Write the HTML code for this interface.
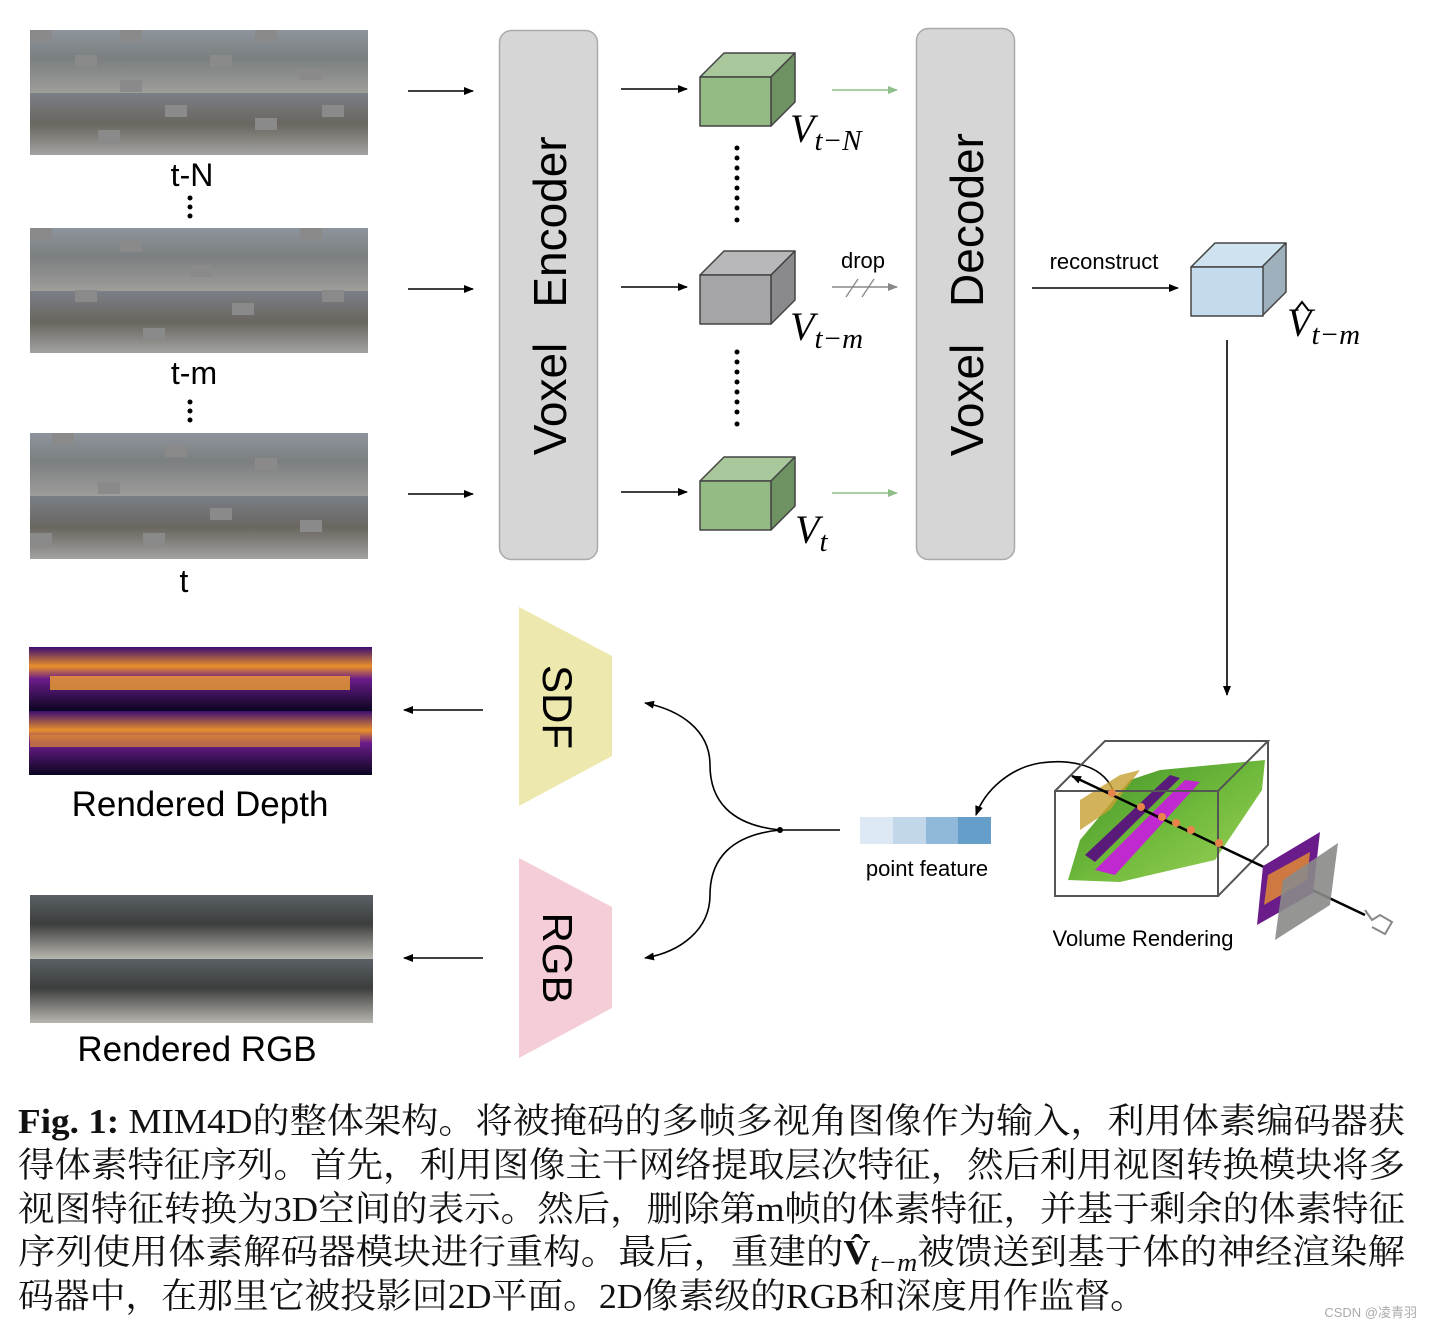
<!DOCTYPE html>
<html><head><meta charset="utf-8">
<style>
html,body{margin:0;padding:0;background:#fff;}
svg{display:block;}
.s{font-family:"Liberation Sans","DejaVu Sans",sans-serif;}
.m{font-family:"Liberation Serif","DejaVu Serif",serif;font-style:italic;}
.c{font-family:"Liberation Serif","Noto Serif CJK SC",serif;font-size:35px;fill:#111;}
</style></head><body>
<svg width="1432" height="1328" viewBox="0 0 1432 1328" xmlns="http://www.w3.org/2000/svg">
<defs>
<marker id="ah" markerWidth="10" markerHeight="8" refX="9" refY="4" orient="auto" markerUnits="userSpaceOnUse"><path d="M0,0 L10,4 L0,8 Z" fill="#000"/></marker>
<marker id="ag" markerWidth="10" markerHeight="8" refX="9" refY="4" orient="auto" markerUnits="userSpaceOnUse"><path d="M0,0 L10,4 L0,8 Z" fill="#8fbf88"/></marker>
<marker id="ay" markerWidth="10" markerHeight="8" refX="9" refY="4" orient="auto" markerUnits="userSpaceOnUse"><path d="M0,0 L10,4 L0,8 Z" fill="#888"/></marker>
<linearGradient id="photoT" x1="0" y1="0" x2="0" y2="1">
<stop offset="0" stop-color="#8d949c"/><stop offset="0.45" stop-color="#7b7f80"/><stop offset="1" stop-color="#9d9d9a"/></linearGradient>
<linearGradient id="photoB" x1="0" y1="0" x2="0" y2="1">
<stop offset="0" stop-color="#7a7f86"/><stop offset="0.5" stop-color="#6a6660"/><stop offset="1" stop-color="#a2a2a0"/></linearGradient>
<linearGradient id="depth" x1="0" y1="0" x2="0" y2="1">
<stop offset="0" stop-color="#3a0d72"/><stop offset="0.3" stop-color="#e8902a"/><stop offset="0.5" stop-color="#6a1c8a"/><stop offset="1" stop-color="#0a0520"/></linearGradient>
<linearGradient id="rgbp" x1="0" y1="0" x2="0" y2="1">
<stop offset="0" stop-color="#5a6066"/><stop offset="0.45" stop-color="#3c3e3c"/><stop offset="1" stop-color="#b8b6b0"/></linearGradient>
<linearGradient id="ground" x1="0" y1="0" x2="1" y2="1">
<stop offset="0" stop-color="#3f8f2a"/><stop offset="0.5" stop-color="#6db83a"/><stop offset="1" stop-color="#9fd35a"/></linearGradient>
</defs>

<g>
<rect x="30" y="30" width="338" height="63" fill="url(#photoT)"/><rect x="30" y="93" width="338" height="62" fill="url(#photoB)"/>
<rect x="30" y="228" width="338" height="63" fill="url(#photoT)"/><rect x="30" y="291" width="338" height="62" fill="url(#photoB)"/>
<rect x="30" y="433" width="338" height="63" fill="url(#photoT)"/><rect x="30" y="496" width="338" height="63" fill="url(#photoB)"/>
<g fill="#8a8a8a">
<rect x="30" y="30" width="22" height="12"/><rect x="120" y="30" width="22" height="12"/><rect x="75" y="55" width="22" height="12"/><rect x="120" y="80" width="22" height="12"/><rect x="255" y="30" width="22" height="12"/><rect x="210" y="55" width="22" height="12"/><rect x="300" y="68" width="22" height="12"/><rect x="165" y="105" width="22" height="12"/><rect x="255" y="118" width="22" height="12"/><rect x="98" y="130" width="22" height="12"/><rect x="322" y="105" width="22" height="12"/>
<rect x="30" y="228" width="22" height="12"/><rect x="120" y="240" width="22" height="12"/><rect x="190" y="265" width="22" height="12"/><rect x="300" y="228" width="22" height="12"/><rect x="75" y="290" width="22" height="12"/><rect x="232" y="303" width="22" height="12"/><rect x="143" y="328" width="22" height="12"/><rect x="322" y="290" width="22" height="12"/>
<rect x="52" y="433" width="22" height="12"/><rect x="165" y="445" width="22" height="12"/><rect x="255" y="458" width="22" height="12"/><rect x="98" y="482" width="22" height="12"/><rect x="210" y="508" width="22" height="12"/><rect x="300" y="520" width="22" height="12"/><rect x="30" y="533" width="22" height="12"/><rect x="143" y="533" width="22" height="12"/>
</g>
</g>
<g class="s" font-size="32" text-anchor="middle" fill="#000">
<text x="192" y="186">t-N</text>
<text x="194" y="384">t-m</text>
<text x="184" y="592">t</text>
</g>
<g fill="#000"><circle cx="190" cy="198" r="2.5"/><circle cx="190" cy="207" r="2.5"/><circle cx="190" cy="216" r="2.5"/>
<circle cx="190" cy="402" r="2.5"/><circle cx="190" cy="411" r="2.5"/><circle cx="190" cy="420" r="2.5"/></g>

<g stroke="#000" stroke-width="1.6" marker-end="url(#ah)">
<line x1="408" y1="91" x2="473" y2="91"/><line x1="408" y1="289" x2="473" y2="289"/><line x1="408" y1="494" x2="473" y2="494"/>
<line x1="621" y1="89" x2="687" y2="89"/><line x1="621" y1="287" x2="687" y2="287"/><line x1="621" y1="492" x2="687" y2="492"/>
</g>

<rect x="499.5" y="30.5" width="98" height="529" rx="12" fill="#d6d6d6" stroke="#aaa" stroke-width="1.5"/>
<text class="s" font-size="46" text-anchor="middle" transform="translate(566,399) rotate(-90)" fill="#000">Voxel</text>
<text class="s" font-size="46" text-anchor="middle" transform="translate(566,222) rotate(-90)" fill="#000">Encoder</text>
<rect x="916.5" y="28.5" width="98" height="531" rx="12" fill="#d6d6d6" stroke="#aaa" stroke-width="1.5"/>
<text class="s" font-size="46" text-anchor="middle" transform="translate(983,400) rotate(-90)" fill="#000">Voxel</text>
<text class="s" font-size="46" text-anchor="middle" transform="translate(983,220) rotate(-90)" fill="#000">Decoder</text>

<g stroke="#444" stroke-width="1.5" stroke-linejoin="round">
<g>
<path d="M700,77 L724,53 L795,53 L771,77 Z" fill="#a8c79a"/><path d="M771,77 L795,53 L795,102 L771,126 Z" fill="#6f9262"/><rect x="700" y="77" width="71" height="49" fill="#94bb84"/></g>
<g transform="translate(0,198)">
<path d="M700,77 L724,53 L795,53 L771,77 Z" fill="#b8b8ba"/><path d="M771,77 L795,53 L795,102 L771,126 Z" fill="#8a8a8c"/><rect x="700" y="77" width="71" height="49" fill="#a5a5a8"/></g>
<g transform="translate(0,404)">
<path d="M700,77 L724,53 L795,53 L771,77 Z" fill="#a8c79a"/><path d="M771,77 L795,53 L795,102 L771,126 Z" fill="#6f9262"/><rect x="700" y="77" width="71" height="49" fill="#94bb84"/></g>
<g transform="translate(491,190)">
<path d="M700,77 L724,53 L795,53 L771,77 Z" fill="#cfe2f0"/><path d="M771,77 L795,53 L795,102 L771,126 Z" fill="#9fb0bd"/><rect x="700" y="77" width="72" height="49" fill="#c3dbec"/></g>
</g>
<g fill="#000">
<circle cx="737" cy="148" r="2.5"/><circle cx="737" cy="158" r="2.5"/><circle cx="737" cy="168" r="2.5"/><circle cx="737" cy="178" r="2.5"/><circle cx="737" cy="188" r="2.5"/><circle cx="737" cy="198" r="2.5"/><circle cx="737" cy="208" r="2.5"/><circle cx="737" cy="220" r="2.5"/>
<circle cx="737" cy="352" r="2.5"/><circle cx="737" cy="362" r="2.5"/><circle cx="737" cy="372" r="2.5"/><circle cx="737" cy="382" r="2.5"/><circle cx="737" cy="392" r="2.5"/><circle cx="737" cy="402" r="2.5"/><circle cx="737" cy="412" r="2.5"/><circle cx="737" cy="424" r="2.5"/>
</g>
<g class="m" fill="#000">
<text x="790" y="142" font-size="40">V<tspan font-size="29" dy="8">t−N</tspan></text>
<text x="790" y="340" font-size="40">V<tspan font-size="29" dy="8">t−m</tspan></text>
<text x="795" y="543" font-size="40">V<tspan font-size="29" dy="8">t</tspan></text>
<text x="1287" y="336" font-size="40">V<tspan font-size="29" dy="8">t−m</tspan></text>
</g>
<path d="M1295,311 L1302,302 L1309,311" fill="none" stroke="#000" stroke-width="2"/>

<line x1="832" y1="90" x2="897" y2="90" stroke="#8fbf88" stroke-width="1.6" marker-end="url(#ag)"/>
<line x1="832" y1="493" x2="897" y2="493" stroke="#8fbf88" stroke-width="1.6" marker-end="url(#ag)"/>
<line x1="832" y1="287" x2="897" y2="287" stroke="#888" stroke-width="1.6" marker-end="url(#ay)"/>
<line x1="846" y1="297" x2="858" y2="279" stroke="#888" stroke-width="1.3"/><line x1="862" y1="297" x2="874" y2="279" stroke="#888" stroke-width="1.3"/>
<text class="s" x="863" y="268" font-size="22" text-anchor="middle">drop</text>
<text class="s" x="1104" y="269" font-size="22" text-anchor="middle">reconstruct</text>
<line x1="1032" y1="288" x2="1178" y2="288" stroke="#000" stroke-width="1.6" marker-end="url(#ah)"/>
<line x1="1227" y1="340" x2="1227" y2="695" stroke="#000" stroke-width="1.6" marker-end="url(#ah)"/>

<rect x="29" y="647" width="343" height="64" fill="url(#depth)"/>
<rect x="29" y="711" width="343" height="64" fill="url(#depth)"/>
<rect x="50" y="676" width="300" height="14" fill="#f0a030" opacity="0.8"/>
<rect x="30" y="735" width="330" height="12" fill="#e08a30" opacity="0.7"/>
<text class="s" x="200" y="816" font-size="35" text-anchor="middle">Rendered Depth</text>
<rect x="30" y="895" width="343" height="64" fill="url(#rgbp)"/>
<rect x="30" y="959" width="343" height="64" fill="url(#rgbp)"/>
<text class="s" x="197" y="1061" font-size="35" text-anchor="middle">Rendered RGB</text>
<g stroke="#000" stroke-width="1.6" marker-end="url(#ah)">
<line x1="483" y1="710" x2="404" y2="710"/><line x1="483" y1="958" x2="404" y2="958"/></g>

<path d="M519,607 L612,656 L612,756 L519,806 Z" fill="#ede8ad"/>
<path d="M519,858 L612,907 L612,1008 L519,1058 Z" fill="#f4cdd6"/>
<text class="s" font-size="42" text-anchor="middle" transform="translate(543,707) rotate(90)">SDF</text>
<text class="s" font-size="42" text-anchor="middle" transform="translate(543,958) rotate(90)">RGB</text>

<path d="M780,830 C730,825 710,800 710,765 C710,730 680,710 645,703" fill="none" stroke="#000" stroke-width="1.6" marker-end="url(#ah)"/>
<path d="M780,830 C730,835 710,860 710,895 C710,930 680,952 645,958" fill="none" stroke="#000" stroke-width="1.6" marker-end="url(#ah)"/>
<line x1="780" y1="830" x2="840" y2="830" stroke="#000" stroke-width="1.6"/>
<circle cx="780" cy="830" r="3" fill="#000"/>

<rect x="860" y="817" width="34" height="27" fill="#dce9f4"/><rect x="893" y="817" width="33" height="27" fill="#c2d8ea"/><rect x="926" y="817" width="33" height="27" fill="#8fb8da"/><rect x="958" y="817" width="33" height="27" fill="#659ec9"/>
<text class="s" x="927" y="876" font-size="22" text-anchor="middle">point feature</text>
<path d="M1113,790 C1100,760 1060,760 1040,763 C1010,768 985,790 976,815" fill="none" stroke="#000" stroke-width="1.6" marker-end="url(#ah)"/>

<g>
<path d="M1068,880 L1080,840 L1130,780 L1160,770 L1265,760 L1262,790 L1215,860 L1120,882 Z" fill="url(#ground)"/>
<path d="M1095,870 L1185,780 L1200,782 L1115,875 Z" fill="#c028d0"/>
<path d="M1085,855 L1170,775 L1180,778 L1095,862 Z" fill="#5a1a7a"/>
<path d="M1080,800 L1120,775 L1140,770 L1110,810 L1080,830 Z" fill="#c8a030" opacity="0.8"/>
<rect x="1055" y="791" width="163" height="105" fill="none" stroke="#555" stroke-width="2"/>
<path d="M1055,791 L1105,741 L1268,741 L1218,791 M1268,741 L1268,845 L1218,896" fill="none" stroke="#555" stroke-width="2"/>
<line x1="1365" y1="915" x2="1072" y2="776" stroke="#000" stroke-width="2.5" marker-end="url(#ah)"/>
<g fill="#e8844a"><circle cx="1112" cy="793" r="4"/><circle cx="1141" cy="807" r="4"/><circle cx="1162" cy="817" r="4"/><circle cx="1176" cy="823" r="4"/><circle cx="1191" cy="830" r="4"/><circle cx="1219" cy="843" r="4"/></g>
<path d="M1257,925 L1263,866 L1320,832 L1313,893 Z" fill="#6a1c8a"/>
<path d="M1264,905 L1268,875 L1310,852 L1307,880 Z" fill="#e89030" opacity="0.8"/>
<path d="M1275,940 L1283,880 L1338,843 L1330,905 Z" fill="#8a8a88" opacity="0.9"/>
<path d="M1365,910 L1372,920 L1380,915 L1392,922 L1385,934 L1372,927" fill="none" stroke="#888" stroke-width="2"/>
</g>
<text class="s" x="1143" y="946" font-size="22" text-anchor="middle">Volume Rendering</text>

<text class="c" x="18" y="1133" textLength="1387" lengthAdjust="spacingAndGlyphs"><tspan font-weight="bold">Fig. 1:</tspan> MIM4D的整体架构。将被掩码的多帧多视角图像作为输入，利用体素编码器获</text>
<text class="c" x="18" y="1177" textLength="1387" lengthAdjust="spacingAndGlyphs">得体素特征序列。首先，利用图像主干网络提取层次特征，然后利用视图转换模块将多</text>
<text class="c" x="18" y="1221" textLength="1387" lengthAdjust="spacingAndGlyphs">视图特征转换为3D空间的表示。然后，删除第m帧的体素特征，并基于剩余的体素特征</text>
<text class="c" x="18" y="1264" textLength="1387" lengthAdjust="spacingAndGlyphs">序列使用体素解码器模块进行重构。最后，重建的<tspan font-weight="bold">V̂</tspan><tspan font-style="italic" font-size="26" dy="7">t−m</tspan><tspan dy="-7">被馈送到基于体的神经渲染解</tspan></text>
<text class="c" x="18" y="1308" textLength="1128" lengthAdjust="spacingAndGlyphs">码器中，在那里它被投影回2D平面。2D像素级的RGB和深度用作监督。</text>
<text x="1417" y="1317" font-family="Liberation Sans,Noto Sans CJK SC,sans-serif" font-size="13" fill="#aaa" text-anchor="end">CSDN @凌青羽</text>
</svg>
</body></html>
